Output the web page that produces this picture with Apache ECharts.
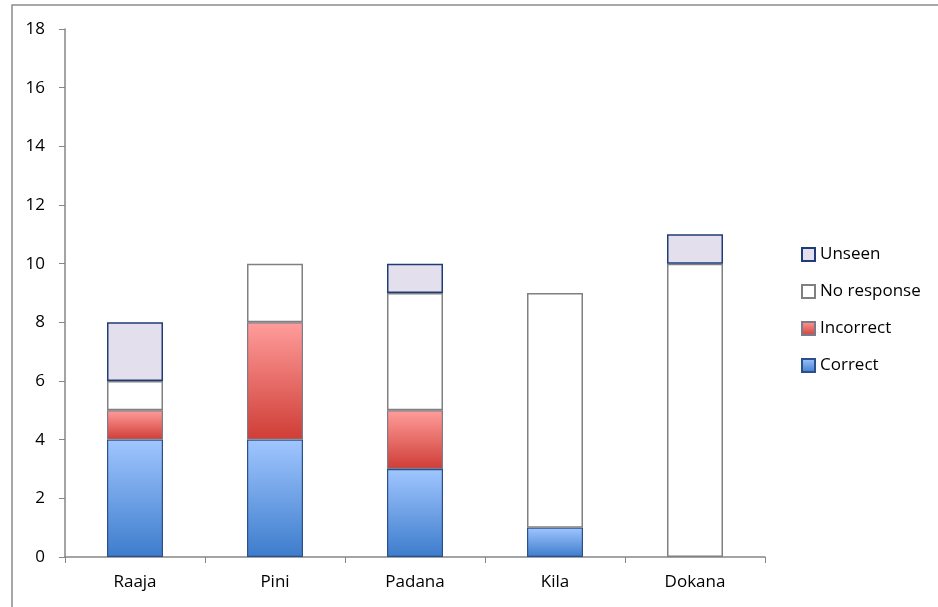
<!DOCTYPE html>
<html>
<head>
<meta charset="utf-8">
<script src="https://cdn.jsdelivr.net/npm/echarts@6/dist/echarts.min.js"></script>
<style>
  html, body { margin: 0; padding: 0; background: #fff; }
  #main { width: 938px; height: 607px; }
</style>
</head>
<body>
<div id="main"></div>
<script>
const categories = ['Raaja', 'Pini', 'Padana', 'Kila', 'Dokana'];
const correct = [4, 4, 3, 1, 0];
const incorrect = [1, 4, 2, 0, 0];
const noResponse = [1, 2, 4, 8, 10];
const unseen = [2, 0, 1, 0, 1];
const yTicks = [0, 2, 4, 6, 8, 10, 12, 14, 16, 18];

var chart = echarts.init(document.getElementById('main'));

function grad(top, bottom) {
  return new echarts.graphic.LinearGradient(0, 0, 0, 1, [
    { offset: 0, color: top },
    { offset: 1, color: bottom }
  ]);
}

// empty segments should not draw a border line
function nz(arr) {
  return arr.map(v => (v === 0 ? '-' : v));
}

var font = '"Open Sans", "Liberation Sans", sans-serif';

var option = {
  backgroundColor: '#ffffff',
  animation: false,
  textStyle: { fontFamily: font },
  graphic: [{
    type: 'rect',
    shape: { x: 12, y: 5, width: 960, height: 640 },
    style: { fill: 'none', stroke: '#8c8c8c', lineWidth: 1.5 },
    silent: true
  }],
  grid: { left: 65, right: 173, top: 29, bottom: 50 },
  legend: {
    orient: 'vertical',
    left: 796,
    top: 241,
    icon: 'rect',
    itemWidth: 13,
    itemHeight: 13,
    itemGap: 20,
    textStyle: { fontSize: 17, color: '#000', fontFamily: font },
    data: ['Unseen', 'No response', 'Incorrect', 'Correct']
  },
  xAxis: {
    type: 'category',
    data: categories,
    axisLine: { lineStyle: { color: '#868686', width: 1.5 } },
    axisTick: { show: true, alignWithLabel: false, length: 6, lineStyle: { color: '#868686' } },
    axisLabel: { color: '#000', fontSize: 17, margin: 17, fontFamily: font }
  },
  yAxis: {
    type: 'value',
    min: yTicks[0],
    max: yTicks[yTicks.length - 1],
    interval: 2,
    splitLine: { show: false },
    axisLine: { show: true, lineStyle: { color: '#868686', width: 1.5 } },
    axisTick: { show: true, length: 6, lineStyle: { color: '#868686' } },
    axisLabel: { color: '#000', fontSize: 17, margin: 20, fontFamily: font }
  },
  series: [
    {
      name: 'Correct', type: 'bar', stack: 'total', barWidth: '40%',
      data: nz(correct),
      itemStyle: { color: grad('#a0c6ff', '#3d7ccc'), borderColor: '#2c4f8a', borderWidth: 1.2 }
    },
    {
      name: 'Incorrect', type: 'bar', stack: 'total',
      data: nz(incorrect),
      itemStyle: { color: grad('#ff9d9b', '#cf3d36'), borderColor: '#7b7b8a', borderWidth: 1.2 }
    },
    {
      name: 'No response', type: 'bar', stack: 'total',
      data: nz(noResponse),
      itemStyle: { color: '#ffffff', borderColor: '#808080', borderWidth: 1.5 }
    },
    {
      name: 'Unseen', type: 'bar', stack: 'total',
      data: nz(unseen),
      itemStyle: { color: '#e4dfec', borderColor: '#1f3c7a', borderWidth: 1.5 }
    }
  ]
};
chart.setOption(option);
</script>
</body>
</html>
